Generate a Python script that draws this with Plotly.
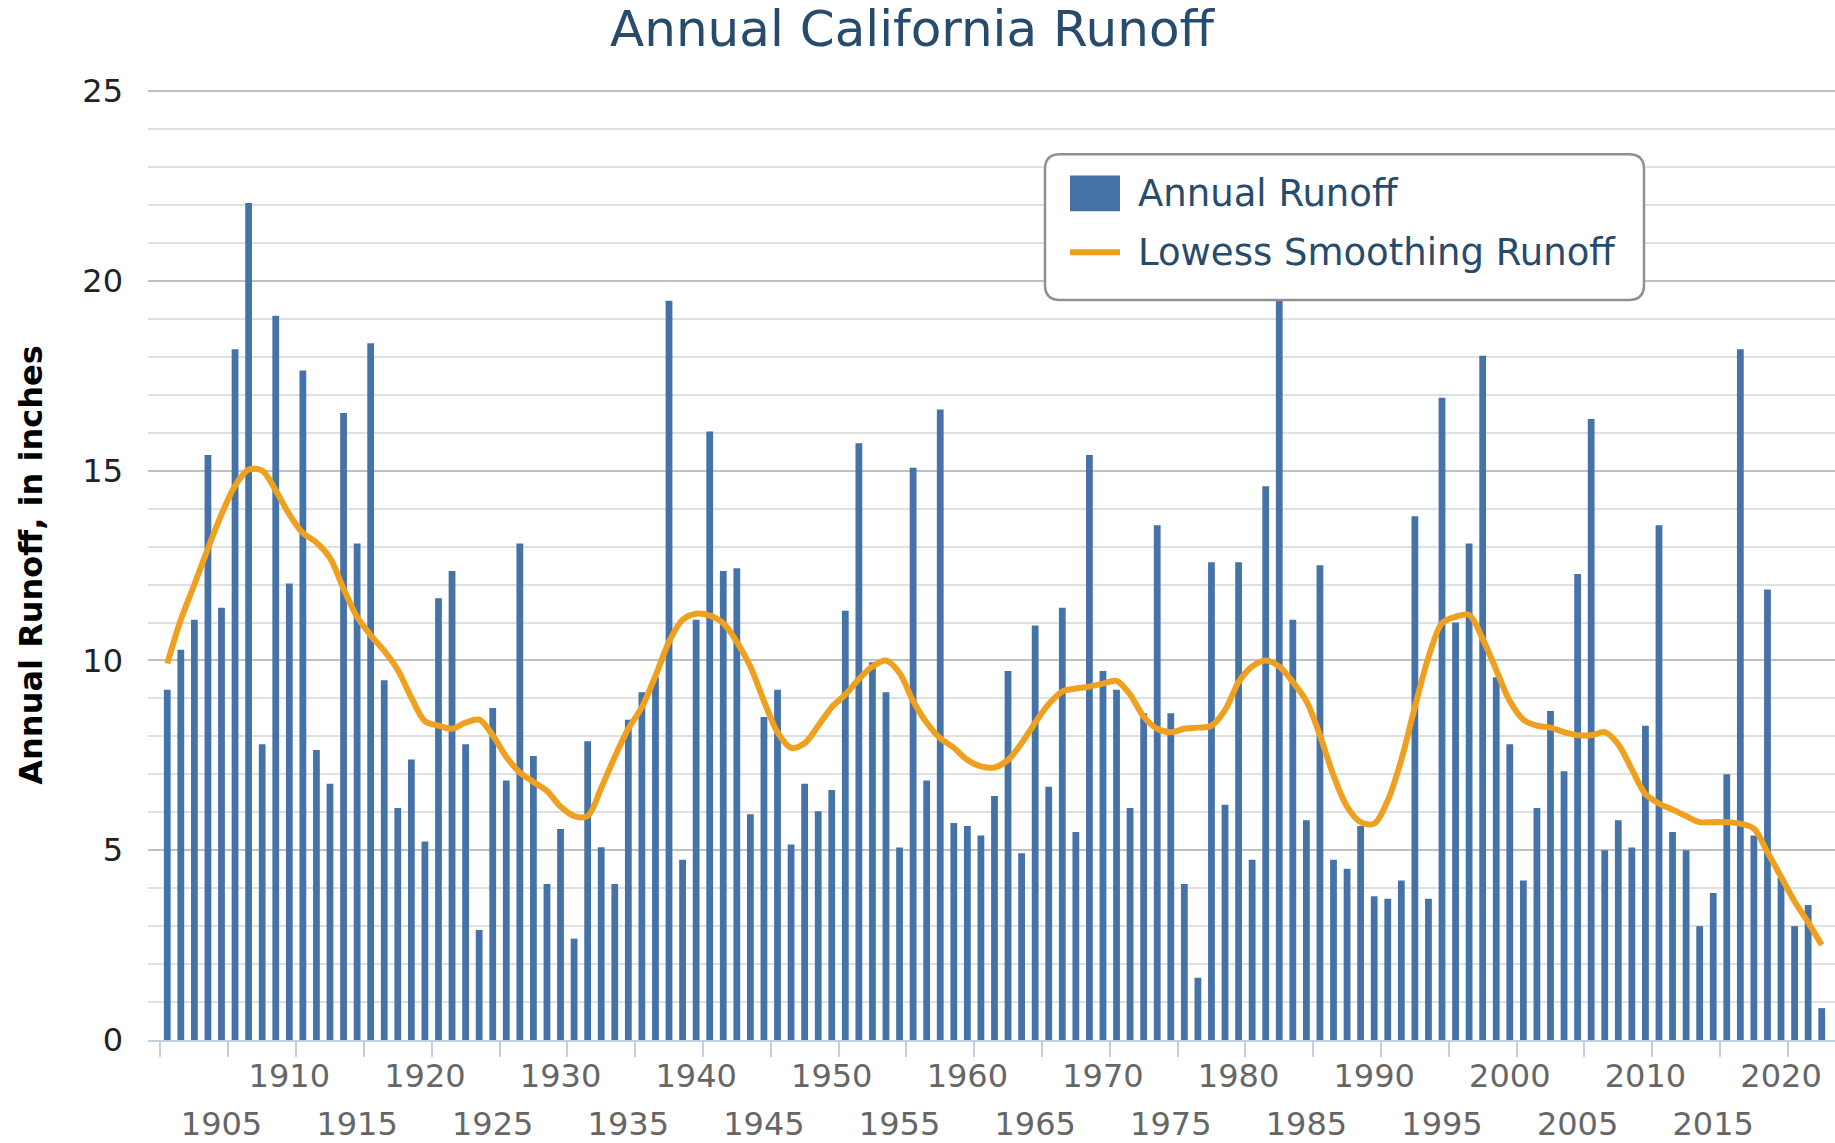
import plotly.graph_objects as go

# ---------------- data ----------------
years = list(range(1901, 2024))

annual_runoff = [
    9.23, 10.28, 11.07, 15.41, 11.39, 18.20, 22.05, 7.79, 19.08, 12.03,   # 1901-1910
    17.64, 7.64, 6.75, 16.52, 13.08, 18.36, 9.48, 6.11, 7.39, 5.23,       # 1911-1920
    11.64, 12.36, 7.79, 2.90, 8.75, 6.84, 13.08, 7.48, 4.11, 5.56,        # 1921-1930
    2.67, 7.87, 5.08, 4.11, 8.44, 9.16, 9.56, 19.48, 4.75, 11.07,         # 1931-1940
    16.03, 12.36, 12.43, 5.95, 8.51, 9.23, 5.15, 6.75, 6.03, 6.59,        # 1941-1950
    11.31, 15.72, 9.95, 9.16, 5.07, 15.08, 6.84, 16.61, 5.72, 5.64,       # 1951-1960
    5.39, 6.43, 9.72, 4.92, 10.92, 6.67, 11.39, 5.48, 15.41, 9.72,        # 1961-1970
    9.23, 6.11, 8.61, 13.56, 8.61, 4.11, 1.64, 12.59, 6.20, 12.59,        # 1971-1980
    4.75, 14.59, 21.50, 11.07, 5.79, 12.51, 4.75, 4.51, 5.64, 3.79,       # 1981-1990
    3.72, 4.20, 13.80, 3.72, 16.92, 11.00, 13.08, 18.03, 9.56, 7.79,      # 1991-2000
    4.20, 6.11, 8.67, 7.08, 12.28, 16.36, 5.00, 5.79, 5.07, 8.28,         # 2001-2010
    13.56, 5.48, 5.00, 3.00, 3.87, 7.00, 18.20, 5.39, 11.87, 4.28,        # 2011-2020
    3.00, 3.56, 0.84,                                                     # 2021-2023
]

lowess_runoff = [
    9.92, 11.07, 12.00, 12.95, 13.85, 14.60, 15.03, 15.00, 14.48, 13.85,  # 1901-1910
    13.36, 13.11, 12.70, 11.89, 11.15, 10.66, 10.25, 9.75, 9.02, 8.40,    # 1911-1920
    8.28, 8.20, 8.36, 8.44, 8.03, 7.46, 7.05, 6.80, 6.56, 6.15,           # 1921-1930
    5.90, 5.90, 6.64, 7.46, 8.20, 8.77, 9.59, 10.49, 11.07, 11.23,        # 1931-1940
    11.18, 10.98, 10.49, 9.84, 8.93, 8.11, 7.70, 7.82, 8.28, 8.77,        # 1941-1950
    9.10, 9.51, 9.84, 10.00, 9.67, 8.93, 8.36, 7.95, 7.70, 7.38,          # 1951-1960
    7.21, 7.18, 7.38, 7.82, 8.36, 8.85, 9.18, 9.26, 9.31, 9.39,           # 1961-1970
    9.46, 9.10, 8.52, 8.20, 8.11, 8.20, 8.23, 8.28, 8.69, 9.43,           # 1971-1980
    9.84, 10.00, 9.84, 9.43, 8.93, 8.03, 6.97, 6.15, 5.74, 5.70,          # 1981-1990
    6.31, 7.38, 8.77, 10.08, 10.98, 11.15, 11.20, 10.57, 9.75, 8.93,      # 1991-2000
    8.44, 8.28, 8.23, 8.11, 8.03, 8.03, 8.11, 7.79, 7.13, 6.48,           # 2001-2010
    6.23, 6.07, 5.90, 5.74, 5.74, 5.74, 5.70, 5.57, 4.95, 4.30,           # 2011-2020
    3.65, 3.10, 2.50,                                                     # 2021-2023
]

upper_tick_years = list(range(1910, 2021, 10))
lower_tick_years = list(range(1905, 2016, 10))
boundary_ticks = [y + 0.5 for y in range(1900, 2021, 5)]
y_ticks = [0, 5, 10, 15, 20, 25]

title_text = "Annual California Runoff"
y_title = "Annual Runoff, in inches"
bar_name = "Annual Runoff"
line_name = "Lowess Smoothing Runoff"

# ---------------- style ----------------
W, H = 1835, 1143
ML, MR, MT, MB = 148, 0, 90, 98
PW, PH = W - ML - MR, H - MT - MB
FONT = "DejaVu Sans"
BAR_COLOR = "#4572A7"
LINE_COLOR = "#EEA01E"
TITLE_COLOR = "#274b6d"
XRANGE = [1899.58, 2023.98]


def px_x(p):
    return (p - ML) / PW


def px_y(p):
    return 1 - (p - MT) / PH


fig = go.Figure()
fig.add_trace(go.Bar(
    x=years, y=annual_runoff, name=bar_name,
    marker=dict(color=BAR_COLOR, line=dict(width=0)),
    showlegend=False,
))
fig.add_trace(go.Scatter(
    x=years, y=lowess_runoff, name=line_name, mode="lines",
    line=dict(color=LINE_COLOR, width=6, shape="spline", smoothing=0.9),
    xaxis="x2", showlegend=False,
))

# ---- custom legend (rounded box, swatches, real text) ----
bx0, bx1, by0, by1 = 1045, 1644, 154.5, 301
r = 15
X0, X1 = px_x(bx0), px_x(bx1)
Y0, Y1 = px_y(by1), px_y(by0)
rx, ry = r / PW, r / PH
path = (f"M{X0+rx},{Y1} L{X1-rx},{Y1} Q{X1},{Y1} {X1},{Y1-ry} "
        f"L{X1},{Y0+ry} Q{X1},{Y0} {X1-rx},{Y0} L{X0+rx},{Y0} "
        f"Q{X0},{Y0} {X0},{Y0+ry} L{X0},{Y1-ry} Q{X0},{Y1} {X0+rx},{Y1} Z")
shapes = [
    dict(type="path", xref="paper", yref="paper", path=path,
         fillcolor="white", line=dict(color="#909090", width=2.5), layer="above"),
    dict(type="rect", xref="paper", yref="paper",
         x0=px_x(1070), x1=px_x(1120), y0=px_y(212), y1=px_y(176),
         fillcolor=BAR_COLOR, line=dict(width=0), layer="above"),
    dict(type="line", xref="paper", yref="paper",
         x0=px_x(1070), x1=px_x(1120), y0=px_y(253), y1=px_y(253),
         line=dict(color=LINE_COLOR, width=6), layer="above"),
]
annotations = [
    dict(xref="paper", yref="paper", x=px_x(1136), y=px_y(194), text=bar_name,
         showarrow=False, xanchor="left", yanchor="middle",
         font=dict(family=FONT, size=37, color=TITLE_COLOR)),
    dict(xref="paper", yref="paper", x=px_x(1136), y=px_y(253), text=line_name,
         showarrow=False, xanchor="left", yanchor="middle",
         font=dict(family=FONT, size=37, color=TITLE_COLOR)),
]

fig.update_layout(
    width=W, height=H, autosize=False,
    margin=dict(l=ML, r=MR, t=MT, b=MB, pad=0),
    paper_bgcolor="white", plot_bgcolor="white",
    font=dict(family=FONT),
    bargap=0.5,
    title=dict(text=title_text, x=0.497, xref="container", xanchor="center",
               y=1 - 28 / H, yref="container", yanchor="middle",
               font=dict(family=FONT, size=50, color=TITLE_COLOR)),
    xaxis=dict(
        range=XRANGE, showgrid=False, zeroline=False,
        showline=True, linecolor="#C0D0E0", linewidth=2,
        tickmode="array", tickvals=upper_tick_years,
        ticktext=[str(v) for v in upper_tick_years],
        ticks="", tickfont=dict(family=FONT, size=32, color="#666666"),
        ticklabelstandoff=7,
        minor=dict(tickmode="array", tickvals=boundary_ticks, ticks="outside",
                   ticklen=15, tickwidth=2, tickcolor="#C0D0E0", showgrid=False),
    ),
    xaxis2=dict(
        range=XRANGE, overlaying="x", anchor="y", side="bottom",
        showgrid=False, zeroline=False, showline=False,
        tickmode="array", tickvals=lower_tick_years,
        ticktext=[str(v) for v in lower_tick_years],
        ticks="", tickfont=dict(family=FONT, size=32, color="#666666"),
        ticklabelstandoff=62,
    ),
    yaxis=dict(
        range=[0, 25.03], tickmode="array", tickvals=y_ticks,
        showgrid=True, gridcolor="#C0C0C0", gridwidth=2,
        zeroline=False, showline=False, ticks="",
        tickfont=dict(family=FONT, size=32, color="#222222"),
        ticklabelstandoff=24,
        minor=dict(dtick=1, showgrid=True, gridcolor="#E0E0E0", gridwidth=2),
        title=dict(text=y_title, standoff=30,
                   font=dict(family=FONT, size=32, color="black", weight="bold")),
    ),
    shapes=shapes,
    annotations=annotations,
)

fig.write_html(
    "out.html",
    config={"displayModeBar": False},
    post_script="document.body.style.margin='0';document.body.style.overflow='hidden';",
)
